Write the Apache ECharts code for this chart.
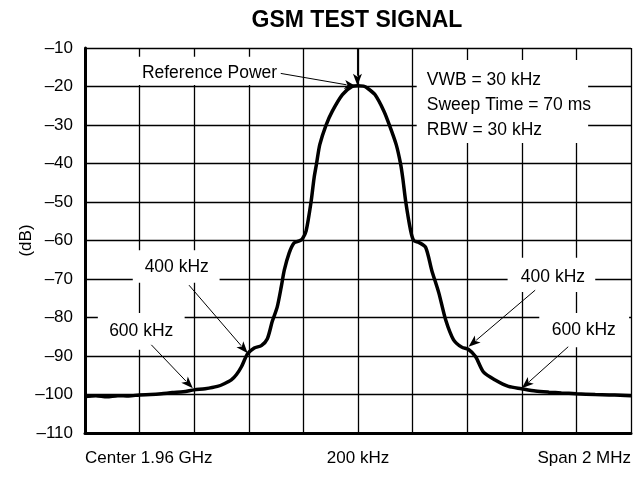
<!DOCTYPE html>
<html>
<head>
<meta charset="utf-8">
<script src="https://cdn.jsdelivr.net/npm/echarts@6/dist/echarts.min.js"></script>
<style>
html,body{margin:0;padding:0;background:#fff;}
#chart{width:634px;height:477px;}
</style>
</head>
<body>
<div id="chart"></div>
<script>
// ---- data (frequency offset in kHz from center, level in dB) ----
const freqKHz = [-1000,-960,-920,-880,-840,-800,-760,-720,-680,-640,-600,-560,-515,-490,-464,-445,-427,-405,-380,-354,-332,-314,-296,-281,-270,-252,-234,-215,-204,-190,-172,-161,-152,-140,-118,-94,-57,-22,0,20,34,62,95,116,140,156,164,175,193,204,223,248,270,296,321,350,380,405,431,460,504,551,599,650,700,745,800,869,920,960,1000];
const levelDB = [-100.5,-100.3,-100.6,-100.3,-100.4,-100.1,-100.0,-99.8,-99.5,-99.3,-98.8,-98.5,-97.9,-97.2,-96.2,-94.8,-92.8,-89.5,-87.9,-87.3,-85.5,-81.0,-77.3,-72.0,-67.7,-63.2,-60.6,-60.1,-59.6,-57.5,-50,-43.8,-40.1,-35.1,-30.2,-26.4,-22.1,-20.0,-19.8,-19.9,-20.4,-22.1,-26.4,-30.2,-35.1,-40.1,-43.8,-50,-57.5,-60,-60.5,-61.8,-67.7,-73.6,-80.6,-85.8,-87.7,-88.3,-90.2,-94.2,-96.3,-97.9,-98.5,-99.1,-99.4,-99.6,-99.8,-100.0,-100.1,-100.2,-100.3];
const xTickLabels = {'-1000':'Center 1.96 GHz','0':'200 kHz','1000':'Span 2 MHz'};
const yTickLabels = {'-110':'\u2013110','-100':'\u2013100','-90':'\u201390','-80':'\u201380','-70':'\u201370','-60':'\u201360','-50':'\u201350','-40':'\u201340','-30':'\u201330','-20':'\u201320','-10':'\u201310'};
const titleText = 'GSM TEST SIGNAL';
const yAxisName = '(dB)';

// annotations in data coordinates
const labelTexts = [
  {text:'Reference Power', at:[-544,-16.5], align:'center'},
  {text:'400 kHz', at:[-664,-66.9], align:'center'},
  {text:'600 kHz', at:[-794,-83.6], align:'center'},
  {text:'400 kHz', at:[714,-69.6], align:'center'},
  {text:'600 kHz', at:[827,-83.3], align:'center'},
  {text:'VWB = 30 kHz', at:[252,-18.4], align:'left'},
  {text:'Sweep Time = 70 ms', at:[252,-24.9], align:'left'},
  {text:'RBW = 30 kHz', at:[252,-31.4], align:'left'}
];
const whiteBoxes = [
  [[-818,-12.3],[-270,-19.6]],
  [[215,-13.1],[843,-34.7]],
  [[-825,-62.5],[-507,-71.0]],
  [[-953,-78.8],[-635,-88.4]],
  [[548,-64.5],[869,-73.4]],
  [[664,-78.8],[993,-87.7]]
];
const arrows = [
  [[-283,-16.6],[-6,-20.0]],
  [[-2,-10],[-2,-19.8]],
  [[-619,-71.6],[-404,-89.3]],
  [[-757,-87.1],[-605,-98.4]],
  [[649,-72.9],[405,-87.6]],
  [[770,-87.6],[600,-98.4]]
];

const FONT = '"Liberation Sans", Arial, Helvetica, sans-serif';
const chart = echarts.init(document.getElementById('chart'), null, {renderer:'canvas'});

chart.setOption({
  animation:false,
  backgroundColor:'#fff',
  title:{text:titleText,left:352,top:4,textAlign:'center',
    textStyle:{fontFamily:FONT,fontSize:23,fontWeight:'bold',color:'#000'}},
  grid:{left:85,right:1,top:48,bottom:44,containLabel:false},
  xAxis:{type:'value',min:-1000,max:1000,interval:200,
    axisLine:{show:true,onZero:false,lineStyle:{color:'#000',width:3}},
    axisTick:{show:false},
    splitLine:{show:true,lineStyle:{color:'#000',width:1.3}},
    axisLabel:{show:true,margin:17,fontFamily:FONT,fontSize:17,color:'#000',
      alignMinLabel:'left',alignMaxLabel:'right',
      formatter:v=>xTickLabels[String(v)]||''}},
  yAxis:{type:'value',min:-110,max:-10,interval:10,
    axisLine:{show:true,onZero:false,lineStyle:{color:'#000',width:3}},
    axisTick:{show:false},
    splitLine:{show:true,lineStyle:{color:'#000',width:1.3}},
    axisLabel:{margin:12,fontFamily:FONT,fontSize:17,color:'#000',
      formatter:v=>yTickLabels[String(v)]||String(v)}},
  series:[{type:'line',data:freqKHz.map((f,i)=>[f,levelDB[i]]),
    showSymbol:false,smooth:0.25,z:3,
    lineStyle:{color:'#000',width:3.5}}]
});

function px(p){return chart.convertToPixel({gridIndex:0},p);}
const g = [];
whiteBoxes.forEach(b=>{
  const a=px(b[0]), c=px(b[1]);
  g.push({type:'rect',z:1,silent:true,
    shape:{x:Math.min(a[0],c[0]),y:Math.min(a[1],c[1]),width:Math.abs(c[0]-a[0]),height:Math.abs(c[1]-a[1])},
    style:{fill:'#fff'}});
});
labelTexts.forEach(t=>{
  const p=px(t.at);
  g.push({type:'text',z:6,silent:true,x:p[0],y:p[1],
    style:{text:t.text,font:'17.5px '+FONT,fill:'#000',align:t.align,verticalAlign:'middle'}});
});
arrows.forEach(a=>{
  const s=px(a[0]), e=px(a[1]);
  const dx=e[0]-s[0], dy=e[1]-s[1], L=Math.hypot(dx,dy);
  const ux=dx/L, uy=dy/L, hl=12, hw=4.5;
  const bx=e[0]-ux*hl, by=e[1]-uy*hl;
  g.push({type:'line',z:6,silent:true,shape:{x1:s[0],y1:s[1],x2:bx+ux*2,y2:by+uy*2},style:{stroke:'#000',lineWidth:1}});
  g.push({type:'polygon',z:6,silent:true,
    shape:{points:[[e[0],e[1]],[bx-uy*hw,by+ux*hw],[bx+ux*3,by+uy*3],[bx+uy*hw,by-ux*hw]]},
    style:{fill:'#000'}});
});
// y-axis title
const mid = px([-1000,-60]);
g.push({type:'text',z:6,silent:true,x:26,y:mid[1],rotation:Math.PI/2,
  style:{text:yAxisName,font:'17px '+FONT,fill:'#000',align:'center',verticalAlign:'middle'}});
chart.setOption({graphic:g});
</script>
</body>
</html>
